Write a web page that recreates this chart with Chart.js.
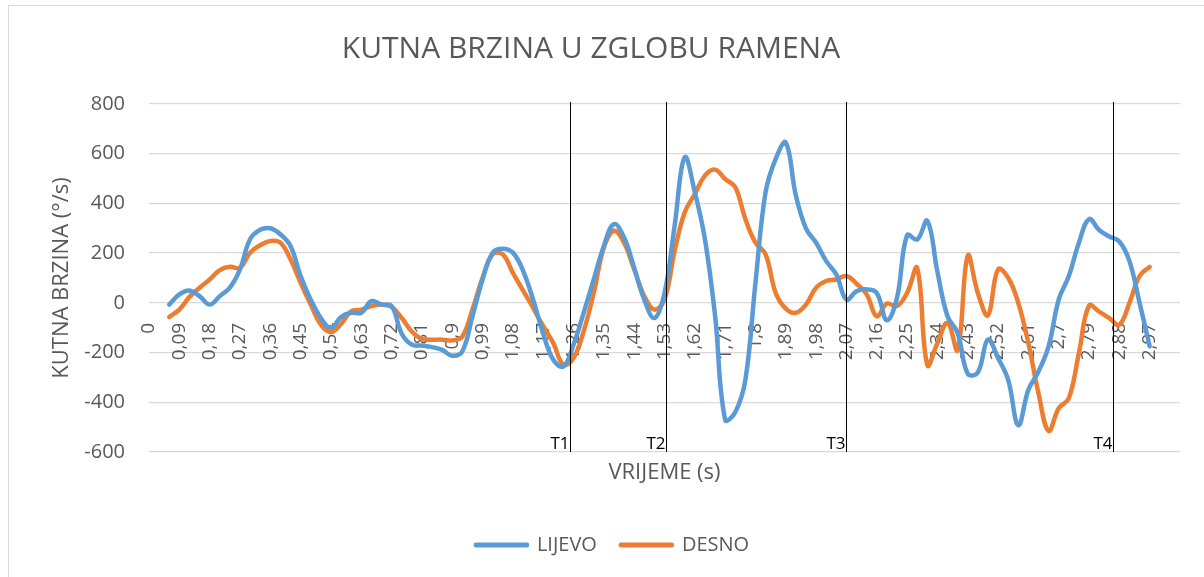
<!DOCTYPE html>
<html>
<head>
<meta charset="utf-8">
<script src="https://cdn.jsdelivr.net/npm/chart.js@4.4.0/dist/chart.umd.min.js"></script>
<style>
  html, body { margin: 0; padding: 0; background: #fff; overflow: hidden; }
  #frame {
    position: absolute; left: 8px; top: 5px; width: 1400px; height: 800px;
    border: 1px solid #d9d9d9;
  }
  #myChart { position: absolute; left: 0; top: 0; }
</style>
</head>
<body>
<div id="frame"></div>
<canvas id="myChart" width="1204" height="577"></canvas>
<script>
// time axis (s), one sample every 0.03 s
const times = [
  '0', '0,03', '0,06', '0,09', '0,12', '0,15', '0,18', '0,21', '0,24', '0,27',
  '0,3', '0,33', '0,36', '0,39', '0,42', '0,45', '0,48', '0,51', '0,54', '0,57',
  '0,6', '0,63', '0,66', '0,69', '0,72', '0,75', '0,78', '0,81', '0,84', '0,87',
  '0,9', '0,93', '0,96', '0,99', '1,02', '1,05', '1,08', '1,11', '1,14', '1,17',
  '1,2', '1,23', '1,26', '1,29', '1,32', '1,35', '1,38', '1,41', '1,44', '1,47',
  '1,5', '1,53', '1,56', '1,59', '1,62', '1,65', '1,68', '1,71', '1,74', '1,77',
  '1,8', '1,83', '1,86', '1,89', '1,92', '1,95', '1,98', '2,01', '2,04', '2,07',
  '2,1', '2,13', '2,16', '2,19', '2,22', '2,25', '2,28', '2,31', '2,34', '2,37',
  '2,4', '2,43', '2,46', '2,49', '2,52', '2,55', '2,58', '2,61', '2,64', '2,67',
  '2,7', '2,73', '2,76', '2,79', '2,82', '2,85', '2,88', '2,91', '2,94', '2,97',
  '3', '3,03', '3,06'
];
const STEP = 0.03;
// every third time gets a label, up to 2,97
const LABEL_EVERY = 3;
const LAST_LABEL = 99;

// angular velocity of the left shoulder (°/s)
const lijevo = [
  null, null, -7, 34, 50, 27, -7, 27, 61, 135,
  256, 294, 300, 276, 229, 108, 13, -61, -101, -57,
  -40, -40, 7, -7, -13, -124, -168, -172, -178, -189,
  -213, -195, -54, 94, 202, 218, 202, 130, 13, -124,
  -229, -256, -168, -40, 94, 229, 317, 263, 141, 13,
  -61, 40, 310, 586, 445, 256, -50, -470, -440, -310,
  81, 445, 579, 645, 431, 299, 242, 168, 114, 13,
  47, 54, 40, -70, 20, 272, 255, 330, 125, -54,
  -121, -285, -280, -148, -222, -310, -492, -350, -276, -175,
  13, 108, 242, 337, 293, 267, 247, 168, 0, -175
];

// angular velocity of the right shoulder (°/s)
const desno = [
  null, null, -57, -27, 24, 61, 94, 132, 145, 141,
  202, 232, 249, 242, 175, 81, -7, -88, -118, -85,
  -34, -27, -13, -7, -16, -61, -115, -145, -148, -148,
  -151, -135, -27, 101, 195, 195, 121, 50, -20, -94,
  -162, -249, -222, -115, 40, 222, 290, 242, 135, 27,
  -27, 13, 209, 364, 438, 512, 536, 498, 465, 337,
  242, 195, 40, -23, -40, -7, 61, 88, 94, 108,
  77, 34, -54, -3, -13, 40, 140, -250, -162, -80,
  -190, 189, 40, -50, 135, 101, 0, -162, -364, -515,
  -424, -384, -202, -11, -35, -61, -88, 0, 108, 145
];

// phase markers (s)
const markerNames = ['T1', 'T2', 'T3', 'T4'];
const markerTimes = [1.25, 1.535, 2.07, 2.86];

const yTicks = { min: -600, max: 800, step: 200 };

const TITLE = 'KUTNA BRZINA U ZGLOBU RAMENA';
const FONT = '"Open Sans", sans-serif';
const TEXT = '#595959';

Chart.defaults.font.family = FONT;
Chart.defaults.color = TEXT;

// chart title, sits a little left of the chart centre
const chartTitle = {
  id: 'chartTitle',
  afterDraw: (chart) => {
    const { ctx } = chart;
    ctx.save();
    ctx.font = '30px ' + FONT;
    ctx.fillStyle = TEXT;
    ctx.textAlign = 'center';
    ctx.textBaseline = 'alphabetic';
    ctx.fillText(TITLE, 591, 58);
    ctx.restore();
  },
};

// vertical phase lines with their labels
const markerLines = {
  id: 'markerLines',
  afterDatasetsDraw: (chart) => {
    const { ctx, chartArea, scales } = chart;
    ctx.save();
    ctx.strokeStyle = '#000';
    ctx.fillStyle = '#000';
    ctx.lineWidth = 1;
    ctx.font = '17px ' + FONT;
    ctx.textAlign = 'right';
    ctx.textBaseline = 'alphabetic';
    markerNames.forEach((name, i) => {
      const px = Math.round(scales.x.getPixelForValue(markerTimes[i] / STEP)) + 0.5;
      ctx.beginPath();
      ctx.moveTo(px, chartArea.top - 2);
      ctx.lineTo(px, chartArea.bottom);
      ctx.stroke();
      ctx.fillText(name, px - 1, chartArea.bottom - 3);
    });
    ctx.restore();
  },
};

const lineStyle = (color) => ({
  borderColor: color,
  backgroundColor: color,
  borderWidth: 4.5,
  borderCapStyle: 'round',
  borderJoinStyle: 'round',
  pointRadius: 0,
  tension: 0.4,
  fill: false,
});

let ctx = document.getElementById('myChart').getContext('2d');

const chart = new Chart(ctx, {
  type: 'line',
  data: {
    labels: times,
    datasets: [
      { label: 'LIJEVO', data: lijevo, ...lineStyle('#5B9BD5') },
      { label: 'DESNO', data: desno, ...lineStyle('#ED7D31') },
    ],
  },
  options: {
    responsive: false,
    animation: false,
    devicePixelRatio: 1,
    layout: { padding: { left: 45, right: 24, top: 104, bottom: 12 } },
    plugins: {
      title: { display: false },
      tooltip: { enabled: false },
      legend: {
        position: 'bottom',
        labels: {
          boxWidth: 51,
          boxHeight: 0.5,
          padding: 24,
          color: TEXT,
          font: { size: 20 },
        },
      },
    },
    scales: {
      x: {
        type: 'category',
        position: { y: 0 },
        offset: false,
        grid: { display: false, drawTicks: false },
        border: { display: false },
        ticks: {
          autoSkip: false,
          minRotation: 90,
          maxRotation: 90,
          padding: 20,
          color: TEXT,
          font: { size: 19 },
          callback: (value, index) =>
            index % LABEL_EVERY === 0 && index <= LAST_LABEL ? times[index] : null,
        },
      },
      x2: {
        type: 'category',
        position: 'bottom',
        grid: { display: false, drawTicks: false },
        border: { display: false },
        ticks: { display: false },
        title: {
          display: true,
          text: 'VRIJEME (s)',
          color: TEXT,
          font: { size: 22 },
          padding: { top: 7.8, bottom: 24.8 },
        },
      },
      y: {
        min: yTicks.min,
        max: yTicks.max,
        afterFit: (scale) => {
          scale.width = 104;
        },
        grid: { color: '#d9d9d9', lineWidth: 1.3, drawTicks: false },
        border: { display: false },
        ticks: {
          stepSize: yTicks.step,
          padding: 24,
          color: TEXT,
          font: { size: 20 },
        },
        title: {
          display: true,
          text: 'KUTNA BRZINA (°/s)',
          color: TEXT,
          font: { size: 22 },
          padding: { top: 3.8, bottom: 0 },
        },
      },
    },
  },
  plugins: [markerLines, chartTitle],
});
</script>
</body>
</html>
